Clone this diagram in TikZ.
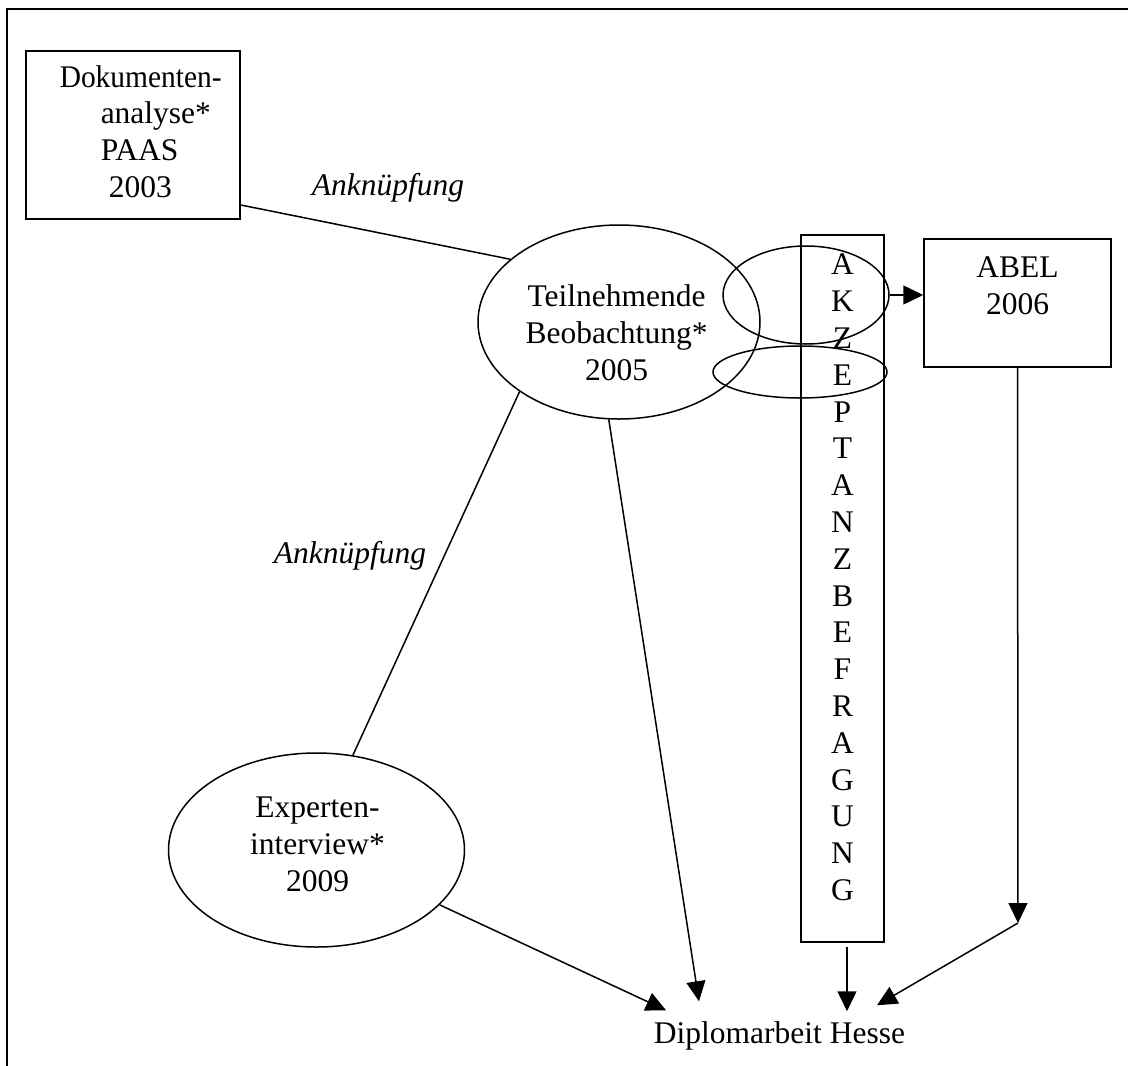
\documentclass[tikz,border=0pt]{standalone}
\usepackage{graphicx}
\usepackage{fontspec}
\setmainfont{Liberation Serif}
\usetikzlibrary{arrows.meta,shapes.geometric}
\begin{document}
\begin{tikzpicture}[x=1pt,y=-1pt,
  line width=1.5pt,
  every node/.style={font=\fontsize{31.5pt}{36.8pt}\selectfont, inner sep=0pt},
  shapebox/.style={draw, rectangle},
  oval/.style={draw, ellipse},
  txt/.style={align=center},
  lbl/.style={font=\fontsize{31.5pt}{36.8pt}\selectfont\itshape, anchor=base},
  flow/.style={-{Triangle[length=20pt,width=19pt]}},
]
\useasboundingbox (0,0) rectangle (1128,1066);

% outer frame (open to the right and bottom)
\draw[line width=2.4pt] (1128,9) -- (7,9) -- (7,1066);

% document analysis
\node[shapebox, minimum width=214pt, minimum height=168pt] (D) at (133,135) {};
\node[align=left, anchor=north west] (Dt) at (59,64.5)
  {\scalebox{0.935}[1]{Dokumenten-}\\\hspace*{41pt}analyse*\\\hspace*{41pt}PAAS\\\hspace*{49pt}2003};

% participant observation
\node[oval, minimum width=282pt, minimum height=194pt] (T) at (619,322) {};
\node[txt] (Tt) at (616.5,333) {Teilnehmende\\Beobachtung*\\2005};

% expert interview
\node[oval, minimum width=296pt, minimum height=194pt] (E) at (316.5,850) {};
\node[txt] (Et) at (317.5,844.5) {Experten-\\interview*\\2009};

% vertical survey bar
\node[shapebox, minimum width=83pt, minimum height=707pt] (B) at (842.5,588.5) {};
\node[txt] (Bt) at (842.5,577.5) {A\\K\\Z\\E\\P\\T\\A\\N\\Z\\B\\E\\F\\R\\A\\G\\U\\N\\G};

% overlapping ovals
\node[oval, minimum width=166pt, minimum height=98pt] (O1) at (806,295) {};
\node[oval, minimum width=174pt, minimum height=52pt] (O2) at (800,372) {};

% ABEL
\node[shapebox, minimum width=187pt, minimum height=128pt] (A) at (1017.5,303) {};
\node[txt] (At) at (1017.5,286) {ABEL\\2006};

% target
\node[anchor=base, inner sep=10pt, text height=22pt, text depth=7pt] (Dip) at (779.5,1043) {Diplomarbeit Hesse};

% labels
\node[lbl] (K1) at (388,195) {Anknüpfung};
\node[lbl] (K2) at (350,563) {Anknüpfung};

\coordinate (k) at (1018,923);

% connectors
\draw (D.327) -- (T.150);
\draw (T.215) -- (E.69);
\draw[flow] (O1.east) -- (O1.east -| A.west);
\draw[flow] (E.336) -- ([xshift=-113.5pt]Dip.north);
\draw[flow] (T.264) -- ([xshift=-80.5pt,yshift=9pt]Dip.north);
\draw[flow] ([xshift=4.5pt,yshift=-4pt]B.south) -- ([xshift=67.5pt,yshift=-1pt]Dip.north);
\draw[flow] (A.south) -- (k);
\draw[flow] (k) -- ([xshift=97.5pt,yshift=5pt]Dip.north);
\end{tikzpicture}
\end{document}
